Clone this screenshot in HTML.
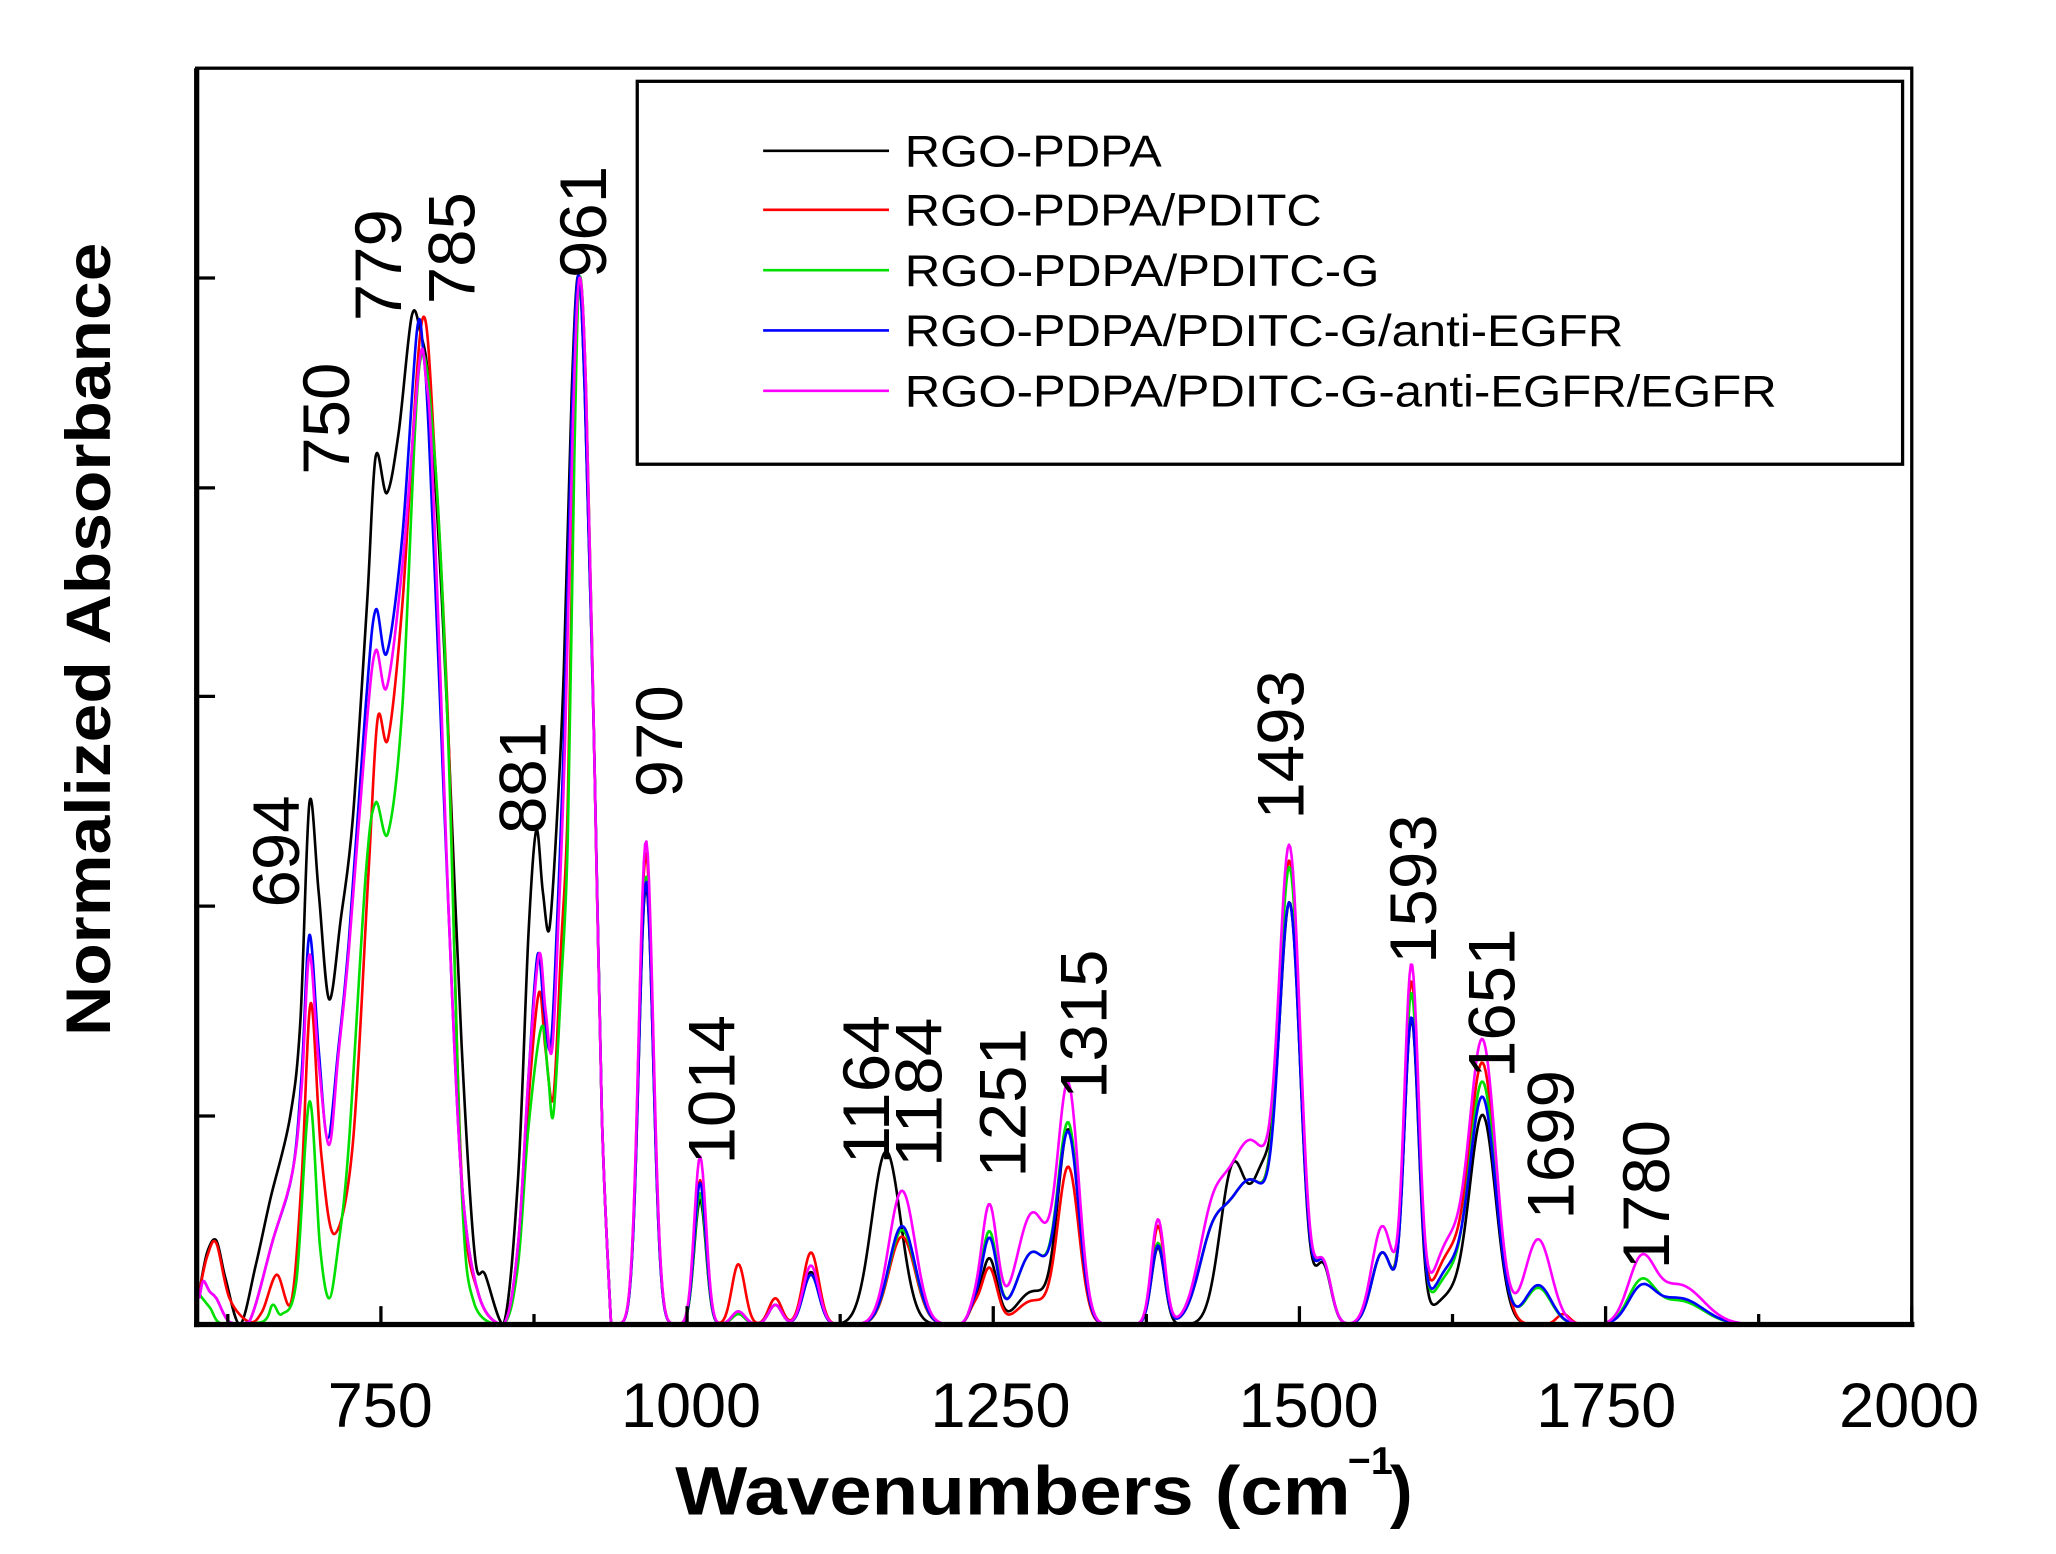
<!DOCTYPE html>
<html><head><meta charset="utf-8"><style>
html,body{margin:0;padding:0;background:#fff;}
svg{display:block;}
text{font-family:"Liberation Sans",Arial,sans-serif;}
</style></head><body>
<svg id="s" width="2056" height="1554" viewBox="0 0 1568 1185" preserveAspectRatio="none" xmlns="http://www.w3.org/2000/svg">
<rect x="0" y="0" width="1568" height="1185" fill="#fff"/>
<g id="curves" fill="none" stroke-width="2" stroke-linejoin="round"></g>
<rect x="150" y="52" width="1308" height="958" fill="none" stroke="#000" stroke-width="2.5"/>
<line x1="150" y1="52" x2="150" y2="1012" stroke="#000" stroke-width="4"/>
<line x1="148" y1="1010" x2="1460" y2="1010" stroke="#000" stroke-width="4"/>
<g id="ticks" stroke="#000" stroke-width="2.5"></g>
<rect x="486" y="62" width="965" height="292" fill="none" stroke="#000" stroke-width="2.5"/>
<g font-size="34">
<line x1="582" y1="115" x2="678" y2="115" stroke="#000" stroke-width="2"/><text x="690" y="127" textLength="196" lengthAdjust="spacingAndGlyphs">RGO-PDPA</text>
<line x1="582" y1="160" x2="678" y2="160" stroke="#ff0000" stroke-width="2"/><text x="690" y="172" textLength="318" lengthAdjust="spacingAndGlyphs">RGO-PDPA/PDITC</text>
<line x1="582" y1="206" x2="678" y2="206" stroke="#00e000" stroke-width="2"/><text x="690" y="218" textLength="362" lengthAdjust="spacingAndGlyphs">RGO-PDPA/PDITC-G</text>
<line x1="582" y1="252" x2="678" y2="252" stroke="#0000ff" stroke-width="2"/><text x="690" y="264" textLength="548" lengthAdjust="spacingAndGlyphs">RGO-PDPA/PDITC-G/anti-EGFR</text>
<line x1="582" y1="298" x2="678" y2="298" stroke="#ff00ff" stroke-width="2"/><text x="690" y="310" textLength="665" lengthAdjust="spacingAndGlyphs">RGO-PDPA/PDITC-G-anti-EGFR/EGFR</text>
</g>
<g font-size="48" text-anchor="middle">
<text x="290" y="1088">750</text><text x="527" y="1088">1000</text><text x="763" y="1088">1250</text>
<text x="998" y="1088">1500</text><text x="1225" y="1088">1750</text><text x="1456" y="1088">2000</text>
</g>
<text x="515" y="1155" font-size="52" font-weight="bold" textLength="515" lengthAdjust="spacingAndGlyphs">Wavenumbers (cm</text>
<text x="1028" y="1124" font-size="30" font-weight="bold">−1</text>
<text x="1060" y="1155" font-size="52" font-weight="bold">)</text>
<text transform="translate(84,790) rotate(-90)" font-size="48" font-weight="bold" textLength="605" lengthAdjust="spacingAndGlyphs">Normalized Absorbance</text>
<g id="labels" font-size="50"></g>
</svg>
<script>
var B=1010;
function X(v){return 1458-(2000-v)*0.934;}
var th='';
for(var v=625;v<=2000;v+=125){var x=X(v);var L=(v%250==0)?14:8;th+='<line x1="'+x+'" y1="1010" x2="'+x+'" y2="'+(1010-L)+'"/>';}
[212,372,531,691,851].forEach(function(y){th+='<line x1="150" y1="'+y+'" x2="164" y2="'+y+'"/>';});
document.getElementById('ticks').innerHTML=th;
var cols=['#000000','#ff0000','#00e000','#0000ff','#ff00ff'];
var pts=[
[[152,985],[158,955],[165,946],[172,975],[183,1010],[195,965],[206,915],[221,853],[229,780],[236,612],[243,680],[251,762],[260,700],[269,625],[280,459],[286.5,348],[295,376],[304,330],[314,241],[321,255],[327,293],[335,420],[342,563],[352,796],[362,956],[370,972],[384,1010],[395,900],[403,713],[409,633],[414,680],[419,708],[425,620],[430,511],[436,300],[441,210],[446,300],[453,563],[459,850],[466,1010]],
[[152,985],[158,958],[165,948],[175,990],[190,1008],[200,1000],[211,972],[222,993],[230,900],[237,765],[245,880],[255,941],[269,873],[281,666],[288,548],[296,563],[307,459],[322,244],[332,355],[342,560],[352,896],[365,987],[384,1010],[395,960],[403,840],[411,757],[416,800],[422,837],[428,720],[433,614],[438,330],[442,212],[447,300],[453,563],[459,850],[466,1010]],
[[152,987],[160,997],[170,1010],[200,1008],[208,995],[215,1002],[226,977],[236,840],[244,950],[251,990],[258,950],[266,873],[279,666],[286.5,612],[296,635],[307,537],[320,278],[332,355],[342,570],[352,905],[362,995],[384,1010],[395,965],[403,860],[413,783],[418,820],[422,850],[428,750],[433,640],[438,350],[442,212],[447,300],[453,563],[459,850],[466,1010]],
[[152,990],[155,977],[160,985],[165,990],[175,1008],[190,1008],[208,946],[223,894],[230,820],[236,713],[243,800],[250,868],[258,800],[266,718],[279,537],[286.5,465],[295,498],[307,407],[318,252],[323,270],[327,330],[335,520],[342,692],[352,899],[365,987],[384,1010],[395,950],[403,822],[410,728],[415,770],[420,798],[425,700],[430,563],[436,320],[441,210],[446,300],[453,563],[459,850],[466,1010]],
[[152,990],[155,977],[160,985],[165,990],[175,1008],[190,1008],[208,946],[223,894],[230,830],[236,728],[243,810],[251,873],[258,805],[266,725],[279,560],[286.5,496],[295,524],[307,430],[320,275],[325,290],[329,340],[336,520],[342,692],[352,899],[365,987],[384,1010],[395,950],[403,822],[411,728],[416,770],[421,801],[426,700],[431,563],[437,320],[442,212],[447,300],[453,563],[459,850],[466,1010]]
];
var G=[
[492,5.5,[335,360,342,338,369]],
[533,4.5,[95,110,100,108,128]],
[562,5,[8,46,8,10,10]],
[590,5,[15,20,15,15,15]],
[617,6,[40,55,38,38,45]],
[674,11,[132,0,0,0,0]],
[686,10,[0,67,72,75,102]],
[740,4,[10,10,10,10,10]],
[752,6,[50,43,70,65,90]],
[785,12,[25,18,55,55,85]],
[812,8,[147,119,150,143,178]],
[880,5,[59,75,62,60,80]],
[920,10,[0,40,40,40,50]],
[937,10,[120,0,0,0,0]],
[960,9,[105,0,0,0,0]],
[950,20,[0,110,110,110,140]],
[980,8,[313,318,313,286,320]],
[1005,6,[45,45,45,45,45]],
[1050,8,[55,55,55,55,75]],
[1072,5.5,[231,258,250,231,270]],
[1100,12,[20,50,35,40,60]],
[1126,10,[158,195,182,170,212]],
[1168,10,[0,0,28,30,65]],
[1187,5,[0,8,0,0,0]],
[1246,10,[0,0,30,25,45]],
[1275,18,[0,0,18,20,30]]
];
G.forEach(function(p){p[0]=p[0]+(p[0]-466)*0.0065+0.5;});
function spline(p){
 var d='M'+p[0][0]+','+p[0][1];
 for(var i=0;i<p.length-1;i++){
  var p0=p[i-1]||p[i],p1=p[i],p2=p[i+1],p3=p[i+2]||p[i+1];
  var c1x=p1[0]+(p2[0]-p0[0])/6,c1y=p1[1]+(p2[1]-p0[1])/6;
  var c2x=p2[0]-(p3[0]-p1[0])/6,c2y=p2[1]-(p3[1]-p1[1])/6;
  if(c1y>B)c1y=B;if(c2y>B)c2y=B;
  d+='C'+c1x.toFixed(1)+','+c1y.toFixed(1)+' '+c2x.toFixed(1)+','+c2y.toFixed(1)+' '+p2[0]+','+p2[1];
 }
 return d;
}
var g='';
[0,1,2,3,4].forEach(function(k){
 var d=spline(pts[k]);
 for(var x=467;x<=1457;x+=1){
  var s=0;
  for(var i=0;i<G.length;i++){var p=G[i];var dx=x-p[0];if(Math.abs(dx)<6*p[1])s+=p[2][k]*Math.exp(-dx*dx/(2*p[1]*p[1]));}
  var y=B-s; if(y>B)y=B;
  d+='L'+x+','+y.toFixed(1);
 }
 g+='<path d="'+d+'" stroke="'+cols[k]+'"/>';
});
document.getElementById('curves').innerHTML=g;
var labs=[['694',228,692],['750',266,362],['779',306,245],['785',362,232],['881',416,636],['961',462,212],['970',520,608],['1014',560,888],['1164',678,888],['1184',718,890],['1251',782,898],['1315',844,838],['1493',994,625],['1593',1095,735],['1651',1155,822],['1699',1200,930],['1780',1273,968]];
var lh='';
labs.forEach(function(l){lh+='<text transform="translate('+l[1]+','+l[2]+') rotate(-90)" textLength="'+(l[0].length*28.5)+'" lengthAdjust="spacingAndGlyphs">'+l[0]+'</text>';});
document.getElementById('labels').innerHTML=lh;
</script>
</body></html>
